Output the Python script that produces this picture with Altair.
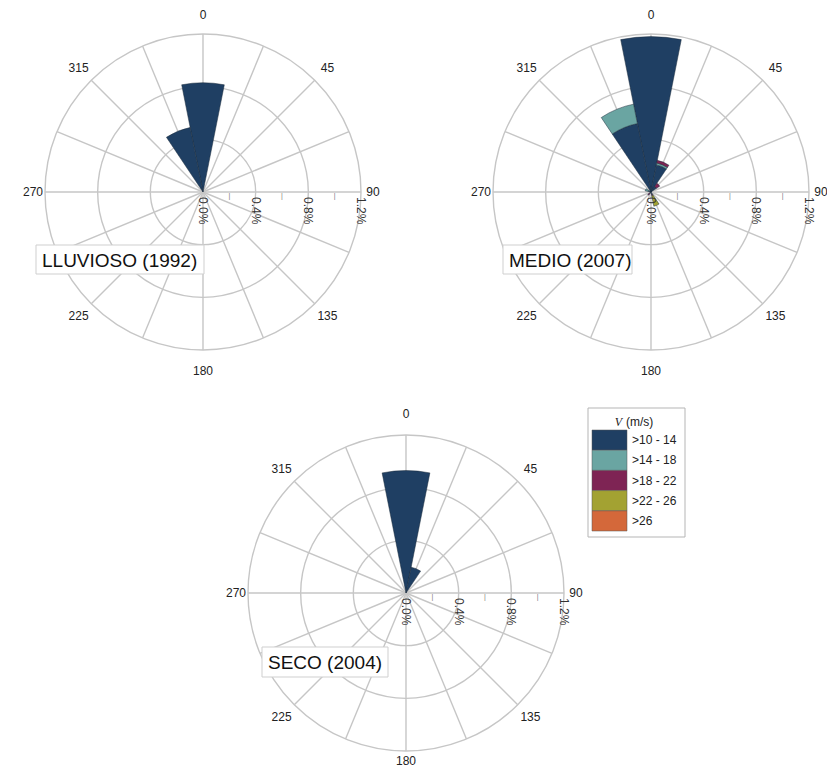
import math
import altair as alt
import pandas as pd

# ---------------- data ----------------
classes = [">10 - 14", ">14 - 18", ">18 - 22", ">22 - 26", ">26"]
class_colors = ["#1f3f63", "#6aa5a2", "#7e2454", "#a3a232", "#d4683a"]
directions = [0, 22.5, 45, 67.5, 90, 112.5, 135, 157.5,
              180, 202.5, 225, 247.5, 270, 292.5, 315, 337.5]
compass_labels = [0, 45, 90, 135, 180, 225, 270, 315]
ring_values = [0.4, 0.8, 1.2]
pct_labels = [0.0, 0.4, 0.8, 1.2]
minor_ticks = [0.2, 0.6, 1.0]
panel_names = ["LLUVIOSO (1992)", "MEDIO (2007)", "SECO (2004)"]

# frequency (%) per direction sector, one list per speed class
lluvioso_10_14 = [0.83, 0, 0, 0, 0, 0, 0, 0, 0, 0, 0, 0, 0, 0, 0, 0.50]
lluvioso_14_18 = [0] * 16
lluvioso_18_22 = [0] * 16
lluvioso_22_26 = [0] * 16
lluvioso_26 = [0] * 16

medio_10_14 = [1.18, 0.21, 0.05, 0, 0, 0, 0, 0.02, 0, 0, 0.01, 0, 0, 0.02, 0, 0.53]
medio_14_18 = [0, 0.015, 0, 0, 0, 0, 0, 0, 0, 0, 0, 0, 0, 0.025, 0, 0.15]
medio_18_22 = [0, 0.02, 0.03, 0, 0, 0, 0, 0.01, 0, 0, 0.02, 0, 0, 0, 0, 0]
medio_22_26 = [0, 0, 0, 0, 0, 0, 0, 0.08, 0, 0, 0, 0, 0, 0, 0, 0]
medio_26 = [0] * 16

seco_10_14 = [0.93, 0.20, 0, 0, 0, 0, 0, 0, 0, 0, 0, 0, 0, 0, 0, 0]
seco_14_18 = [0] * 16
seco_18_22 = [0] * 16
seco_22_26 = [0] * 16
seco_26 = [0] * 16

panel_freqs = {
    "LLUVIOSO (1992)": [lluvioso_10_14, lluvioso_14_18, lluvioso_18_22, lluvioso_22_26, lluvioso_26],
    "MEDIO (2007)": [medio_10_14, medio_14_18, medio_18_22, medio_22_26, medio_26],
    "SECO (2004)": [seco_10_14, seco_14_18, seco_18_22, seco_22_26, seco_26],
}

# ---------------- layout / style ----------------
W, H = 819, 761
FONT = "Liberation Sans"
GRID = "#c6c6c6"
SECTOR = 22.5

geom = {
    "LLUVIOSO (1992)": dict(cx=195, cy=184, bx0=28, bx1=196, by0=237, by1=266, r_top=177, r_bottom=179),
    "MEDIO (2007)": dict(cx=643, cy=184, bx0=495, bx1=624, by0=237, by1=266, r_top=177, r_bottom=179),
    "SECO (2004)": dict(cx=398, cy=585, bx0=254, bx1=380, by0=639, by1=669, r_top=179, r_bottom=168),
}
R_DIAG = 176
R_SIDE = 170

theta_scale = alt.Scale(domain=[0, 360], range=[0, 2 * math.pi])
radius_scale = alt.Scale(type="linear", domain=[0, 1.2], range=[0, 158], zero=True)
color_scale = alt.Scale(domain=classes, range=class_colors)

# ---------------- tables ----------------
rows = []
for name in panel_names:
    for ci, cls in enumerate(classes):
        for di, d in enumerate(directions):
            rows.append(dict(panel=name, cls=cls, order=ci, dir=d,
                             freq=panel_freqs[name][ci][di]))
bars = pd.DataFrame(rows).sort_values(["panel", "dir", "order"])
bars["r1"] = bars.groupby(["panel", "dir"])["freq"].cumsum()
bars["r0"] = bars["r1"] - bars["freq"]
bars["t0"] = bars["dir"] - SECTOR / 2
bars["t1"] = bars["dir"] + SECTOR / 2
bars = bars[bars["freq"] > 0]

rings_df = pd.DataFrame({"r": ring_values, "t0": 0, "t1": 360})
spokes_df = pd.DataFrame({"dir": directions, "r": max(ring_values)})
compass_df = pd.DataFrame({"dir": compass_labels, "label": [str(c) for c in compass_labels]})
pct_df = pd.DataFrame({"r": pct_labels, "label": [f"{p:.1f}%" for p in pct_labels]})
ticks_df = pd.DataFrame({"r": minor_ticks, "label": "|"})
legend_df = pd.DataFrame({"cls": classes})


def compass_layer(pos, radius, cond):
    return alt.Chart(compass_df).mark_text(
        font=FONT, fontSize=12, color="#222", align="center", baseline="middle"
    ).encode(
        theta=alt.Theta("dir:Q", scale=theta_scale, stack=None),
        radius=alt.value(radius),
        text="label:N",
        **pos,
    ).transform_filter(cond)


def panel_layers(name):
    g = geom[name]
    pos = dict(x=alt.value(g["cx"]), y=alt.value(g["cy"]))
    layers = []
    layers.append(
        alt.Chart(rings_df).mark_arc(fillOpacity=0, stroke=GRID, strokeWidth=1.4).encode(
            theta=alt.Theta("t0:Q", scale=theta_scale, stack=None),
            theta2="t1:Q",
            radius=alt.Radius("r:Q", scale=radius_scale, stack=None),
            **pos,
        )
    )
    layers.append(
        alt.Chart(spokes_df).mark_arc(fillOpacity=0, stroke=GRID, strokeWidth=1.4).encode(
            theta=alt.Theta("dir:Q", scale=theta_scale, stack=None),
            theta2="dir:Q",
            radius=alt.Radius("r:Q", scale=radius_scale, stack=None),
            **pos,
        )
    )
    layers.append(
        alt.Chart(bars[bars["panel"] == name]).mark_arc(stroke="#1a2a3a", strokeWidth=0.5).encode(
            theta=alt.Theta("t0:Q", scale=theta_scale, stack=None),
            theta2="t1:Q",
            radius=alt.Radius("r1:Q", scale=radius_scale, stack=None),
            radius2="r0:Q",
            color=alt.Color("cls:N", scale=color_scale, legend=None),
            **pos,
        )
    )
    layers.append(compass_layer(pos, R_DIAG, "datum.dir % 90 != 0"))
    layers.append(compass_layer(pos, R_SIDE, "datum.dir == 90 || datum.dir == 270"))
    layers.append(compass_layer(pos, g["r_top"], "datum.dir == 0"))
    layers.append(compass_layer(pos, g["r_bottom"], "datum.dir == 180"))
    layers.append(
        alt.Chart(ticks_df).mark_text(font=FONT, fontSize=7, color="#777",
                                      align="center", baseline="top").encode(
            theta=alt.value(math.pi / 2),
            radius=alt.Radius("r:Q", scale=radius_scale, stack=None),
            text="label:N",
            **pos,
        )
    )
    layers.append(
        alt.Chart(pct_df).mark_text(font=FONT, fontSize=12, color="#333", angle=90,
                                    align="left", baseline="middle", dx=5).encode(
            theta=alt.value(math.pi / 2),
            radius=alt.Radius("r:Q", scale=radius_scale, stack=None),
            text="label:N",
            **pos,
        )
    )
    name_df = pd.DataFrame({"name": [name]})
    layers.append(
        alt.Chart(name_df).mark_rect(fill="white", stroke="#cfcfcf", strokeWidth=1).encode(
            x=alt.value(g["bx0"]), x2=alt.value(g["bx1"]),
            y=alt.value(g["by0"]), y2=alt.value(g["by1"]),
        )
    )
    layers.append(
        alt.Chart(name_df).mark_text(font=FONT, fontSize=19, color="#111",
                                     align="left", baseline="middle").encode(
            x=alt.value(g["bx0"] + 6),
            y=alt.value((g["by0"] + g["by1"]) / 2 + 1),
            text="name:N",
        )
    )
    return layers


layers = []
for name in panel_names:
    layers += panel_layers(name)

# ---------------- legend ----------------
legend_frame = alt.Chart(pd.DataFrame({"k": [0]})).mark_rect(
    fill="white", stroke="#b5b5b5", strokeWidth=1).encode(
    x=alt.value(580), x2=alt.value(677), y=alt.value(400), y2=alt.value(529))
legend_title_v = alt.Chart(pd.DataFrame({"t": ["V"]})).mark_text(
    font="Liberation Serif", fontStyle="italic", fontSize=12, color="#222",
    align="right", baseline="middle").encode(
    x=alt.value(614), y=alt.value(414), text="t:N")
legend_title_u = alt.Chart(pd.DataFrame({"t": ["(m/s)"]})).mark_text(
    font=FONT, fontSize=12, color="#222", align="left", baseline="middle").encode(
    x=alt.value(618), y=alt.value(414), text="t:N")
legend_y = alt.Y("cls:N", scale=alt.Scale(domain=classes, range=[422, 523],
                                          paddingInner=0, paddingOuter=0), axis=None)
legend_swatch = alt.Chart(legend_df).mark_rect(stroke="#555", strokeWidth=0.5).encode(
    y=legend_y, x=alt.value(584), x2=alt.value(619),
    color=alt.Color("cls:N", scale=color_scale, legend=None))
legend_labels = alt.Chart(legend_df).mark_text(
    font=FONT, fontSize=12, color="#222", align="left", baseline="middle").encode(
    y=legend_y, x=alt.value(624), text="cls:N")

layers += [legend_frame, legend_title_v, legend_title_u, legend_swatch, legend_labels]

chart = alt.layer(*layers).properties(
    width=W, height=H, padding=0,
    autosize=alt.AutoSizeParams(type="none"),
).configure_view(strokeWidth=0)

chart.save("out.html", embed_options={"renderer": "svg", "actions": False})
